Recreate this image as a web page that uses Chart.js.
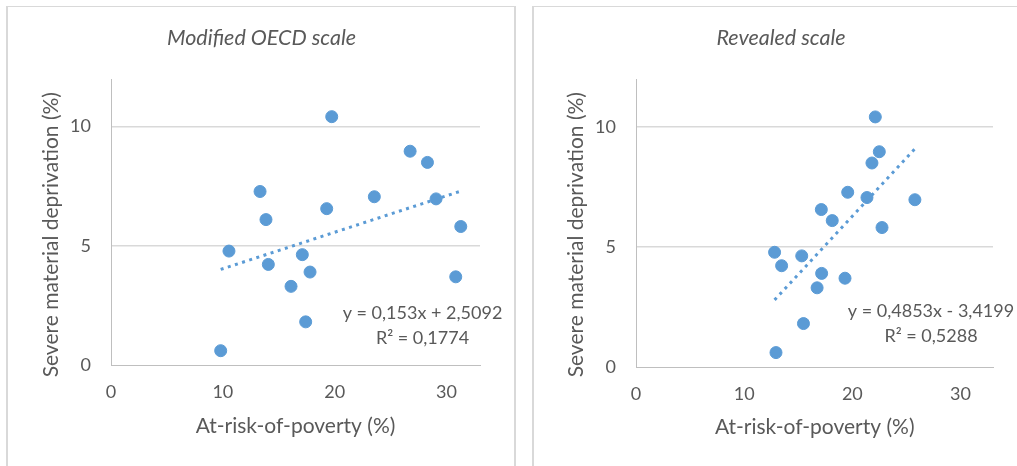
<!DOCTYPE html>
<html>
<head>
<meta charset="utf-8">
<script src="https://cdn.jsdelivr.net/npm/chart.js@4/dist/chart.umd.min.js"></script>
<style>
  html, body { margin: 0; padding: 0; background: #fff; width: 1017px; height: 466px; overflow: hidden; }
  .panel { position: absolute; box-sizing: border-box; border: 1px solid #d9d9d9; border-left-width: 2px; border-right-width: 2px; }
  canvas { position: absolute; top: 0; }
</style>
</head>
<body>
<div class="panel" style="left:6px; top:6px; width:510px; height:520px;"></div>
<div class="panel" style="left:532px; top:6px; width:600px; height:520px;"></div>
<canvas id="oecd" width="520" height="466" style="left:0px;"></canvas>
<canvas id="revealed" width="497" height="466" style="left:520px;"></canvas>
<script>
// Severe material deprivation (%) per country, shared by both panels
const deprivation = [10.42, 8.97, 8.50, 7.28, 7.06, 6.97, 6.56, 6.10, 5.81, 4.78, 4.63, 4.22, 3.90, 3.30, 3.70, 1.81, 0.60];
// At-risk-of-poverty (%) under each equivalence scale, same country order
const povertyOecd = [19.74, 26.75, 28.30, 13.33, 23.55, 29.07, 19.29, 13.86, 31.28, 10.55, 17.11, 14.07, 17.80, 16.10, 30.83, 17.41, 9.81];
const povertyRevealed = [22.12, 22.49, 21.81, 19.57, 21.35, 25.78, 17.13, 18.14, 22.74, 12.81, 15.32, 13.46, 17.16, 16.74, 19.32, 15.48, 12.94];

const panelTitles = ['Modified OECD scale', 'Revealed scale'];
const xTitle = 'At-risk-of-poverty (%)';
const yTitle = 'Severe material deprivation (%)';
const xTicks = [0, 10, 20, 30];
const yTicks = [0, 5, 10];

// Linear trend fitted in each panel
const trendSlopes = [0.153, 0.4853];
const trendIntercepts = [2.5092, -3.4199];
const trendR2 = [0.1774, 0.5288];

const BLUE = '#5B9BD5';
const TEXT = '#595959';
const FONT = 'Lato, "Open Sans", sans-serif';

const dec = n => String(n).replace('.', ',');
const equation = i => 'y = ' + dec(trendSlopes[i]) + 'x ' + (trendIntercepts[i] < 0 ? '- ' : '+ ') + dec(Math.abs(trendIntercepts[i]));
const rSquared = i => 'R\u00B2 = ' + dec(trendR2[i]);

// Draws panel title, axis titles and the trend equation
const panelText = {
  id: 'panelText',
  afterDraw(chart, args, o) {
    const ctx = chart.ctx;
    ctx.save();
    ctx.fillStyle = TEXT;
    ctx.textAlign = 'center';
    ctx.textBaseline = 'middle';
    ctx.font = 'italic ' + o.titleSize + 'px ' + FONT;
    ctx.fillText(o.title, o.titlePos[0], o.titlePos[1]);
    ctx.font = o.axisSize + 'px ' + FONT;
    ctx.fillText(xTitle, o.xTitlePos[0], o.xTitlePos[1]);
    ctx.save();
    ctx.translate(o.yTitlePos[0], o.yTitlePos[1]);
    ctx.rotate(-Math.PI / 2);
    ctx.fillText(yTitle, 0, 0);
    ctx.restore();
    ctx.font = o.eqSize + 'px ' + FONT;
    ctx.fillText(o.lines[0], o.eqPos[0], o.eqPos[1]);
    ctx.fillText(o.lines[1], o.eqPos[0], o.eqPos[1] + o.eqGap);
    ctx.restore();
  }
};

function makeChart(id, i, xs, layout) {
  const pts = xs.map((x, k) => ({ x: x, y: deprivation[k] }));
  const xmin = Math.min(...xs), xmax = Math.max(...xs);
  const trend = [xmin, xmax].map(x => ({ x: x, y: trendSlopes[i] * x + trendIntercepts[i] }));
  return new Chart(document.getElementById(id), {
    type: 'scatter',
    data: {
      datasets: [
        {
          data: pts,
          backgroundColor: BLUE,
          borderColor: BLUE,
          borderWidth: 1,
          pointRadius: 6,
          pointHoverRadius: 6,
          order: 1
        },
        {
          type: 'line',
          data: trend,
          borderColor: BLUE,
          borderWidth: 3,
          borderDash: [3, 4.5],
          pointRadius: 0,
          fill: false,
          order: 2
        }
      ]
    },
    options: {
      responsive: false,
      animation: false,
      devicePixelRatio: 1,
      layout: { padding: layout.padding },
      plugins: {
        legend: { display: false },
        tooltip: { enabled: false },
        panelText: {
          title: panelTitles[i],
          titleSize: 21.5,
          titlePos: layout.titlePos,
          axisSize: 21,
          xTitlePos: layout.xTitlePos,
          yTitlePos: layout.yTitlePos,
          eqSize: 18,
          eqPos: layout.eqPos,
          eqGap: 25,
          lines: [equation(i), rSquared(i)]
        }
      },
      scales: {
        x: {
          type: 'linear',
          min: 0,
          max: 33,
          afterBuildTicks: s => { s.ticks = xTicks.map(v => ({ value: v })); },
          afterFit: s => { s.height = layout.xHeight; },
          ticks: { color: TEXT, font: { family: FONT, size: 18 }, padding: 16, maxRotation: 0 },
          grid: { display: true, color: 'rgba(0,0,0,0)', drawTicks: false },
          border: { display: true, color: '#bfbfbf', width: 1 }
        },
        y: {
          type: 'linear',
          min: 0,
          max: 12,
          afterBuildTicks: s => { s.ticks = yTicks.map(v => ({ value: v })); },
          afterFit: s => { s.width = layout.yWidth; },
          ticks: { color: TEXT, font: { family: FONT, size: 18 }, padding: 20 },
          grid: {
            drawTicks: false,
            lineWidth: 1.5,
            color: c => (c.tick && c.tick.value === 0) ? 'rgba(0,0,0,0)' : '#d9d9d9'
          },
          border: { display: true, color: '#bfbfbf', width: 1 }
        }
      }
    },
    plugins: [panelText]
  });
}

makeChart('oecd', 0, povertyOecd, {
  padding: { left: 0, top: 79, right: 40, bottom: 0 },
  yWidth: 111,
  xHeight: 101,
  titlePos: [261.5, 38.5],
  xTitlePos: [295.5, 426],
  yTitlePos: [51.7, 234.7],
  eqPos: [422.5, 312.7]
});

makeChart('revealed', 1, povertyRevealed, {
  padding: { left: 0, top: 79, right: 24, bottom: 0 },
  yWidth: 116,
  xHeight: 99,
  titlePos: [261, 38.5],
  xTitlePos: [294.7, 427.7],
  yTitlePos: [56.7, 234.7],
  eqPos: [411, 310.7]
});
</script>
</body>
</html>
